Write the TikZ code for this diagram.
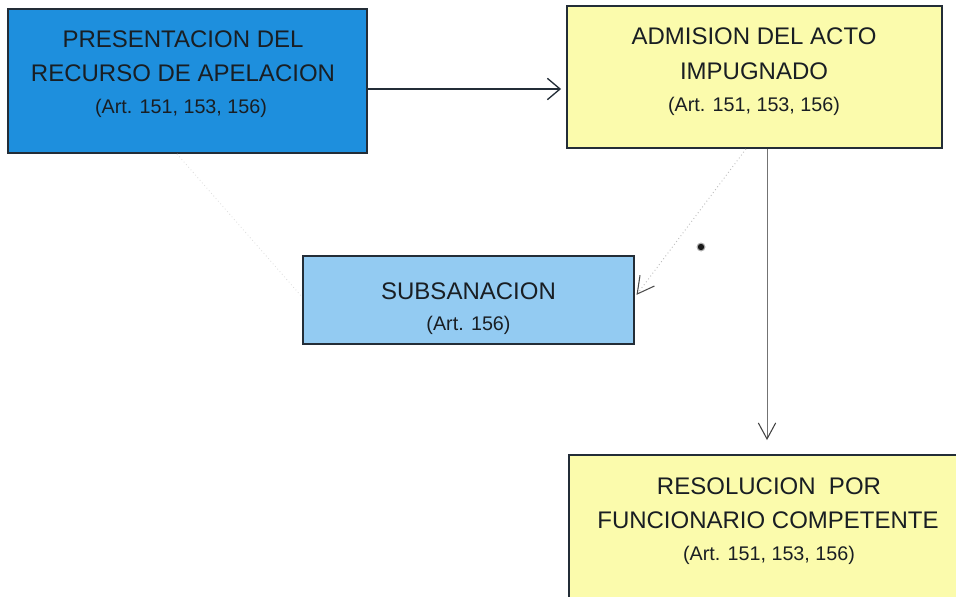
\documentclass[tikz,border=0pt]{standalone}
\usepackage{fontspec}
\setmainfont{Liberation Sans}
\usetikzlibrary{arrows.meta}
\definecolor{boxblue}{RGB}{30,143,221}
\definecolor{boxyellow}{RGB}{251,251,172}
\definecolor{boxlight}{RGB}{147,203,242}
\definecolor{edgecol}{RGB}{35,45,55}
\definecolor{txtcol}{RGB}{25,30,35}
\begin{document}
\begin{tikzpicture}[x=0.75pt,y=-0.75pt,
  box/.style={draw=edgecol,line width=1.4pt,inner sep=0pt,rectangle},
  ttl/.style={font=\fontsize{18}{22}\selectfont,text=txtcol,anchor=base,inner sep=0pt},
  art/.style={font=\fontsize{14.8}{18}\selectfont,text=txtcol,anchor=base,inner sep=0pt},
  mainarrow/.style={draw=edgecol,line width=1.3pt,-{Straight Barb[length=9.5pt,width=16pt,line width=1pt]}},
  downarrow/.style={draw=black!55,line width=0.7pt,-{Straight Barb[length=12pt,width=13pt,line width=0.8pt,color=black!75]}},
  faintarrow/.style={draw=black!25,line width=0.7pt,dotted,-{Straight Barb[length=12.5pt,width=13.5pt,line width=0.8pt,color=black!70]}},
  faintline/.style={draw=black!14,line width=0.6pt,dotted}]
\useasboundingbox (0,0) rectangle (956,596);
\clip (0,0) rectangle (956,596);
% boxes
\node[box,fill=boxblue,minimum width=269.25pt,minimum height=108pt] (b1) at (187.5,81) {};
\node[box,fill=boxyellow,minimum width=281.25pt,minimum height=106.5pt] (b2) at (754.5,77) {};
\node[box,fill=boxlight,minimum width=248.25pt,minimum height=66pt] (b3) at (468.5,300) {};
\node[box,fill=boxyellow,minimum width=307.5pt,minimum height=123.75pt] (b4) at (774,537.5) {};
% texts
\node[ttl] (t1a) at (183,47) {PRESENTACION DEL};
\node[ttl] (t1b) at (183,81) {RECURSO DE APELACION};
\node[art] (t1c) at (181,113) {(Art. 151, 153, 156)};
\node[ttl] (t2a) at (754,44) {ADMISION DEL ACTO};
\node[ttl] (t2b) at (754,79) {IMPUGNADO};
\node[art] (t2c) at (754,111) {(Art. 151, 153, 156)};
\node[ttl] (t3a) at (468.5,299) {SUBSANACION};
\node[art] (t3b) at (468.5,330) {(Art. 156)};
\node[ttl] (t4a) at (769,494) {RESOLUCION\ \ POR};
\node[ttl] (t4b) at (768,528) {FUNCIONARIO COMPETENTE};
\node[art] (t4c) at (769,560) {(Art. 151, 153, 156)};
% helper coordinates
\coordinate (r1) at (0,89);
\coordinate (c2) at (767,0);
\coordinate (c3) at (746,0);
\coordinate (r3) at (0,297);
\coordinate (c5) at (177,0);
% connectors
\draw[mainarrow,shorten >=3.75pt] (b1.east |- r1) -- (b2.west |- r1);
\draw[downarrow,shorten >=10.5pt] (b2.south -| c2) -- (b4.north -| c2);
\draw[faintarrow,shorten >=2pt] (b2.south -| c3) -- (b3.east |- r3);
\draw[faintline] (b1.south -| c5) -- (b3.west |- r3);
% stray dot
\fill[black!30] (701,247) circle[radius=4.5];
\fill[black!90] (701,247) circle[radius=3.2];
\end{tikzpicture}
\end{document}
